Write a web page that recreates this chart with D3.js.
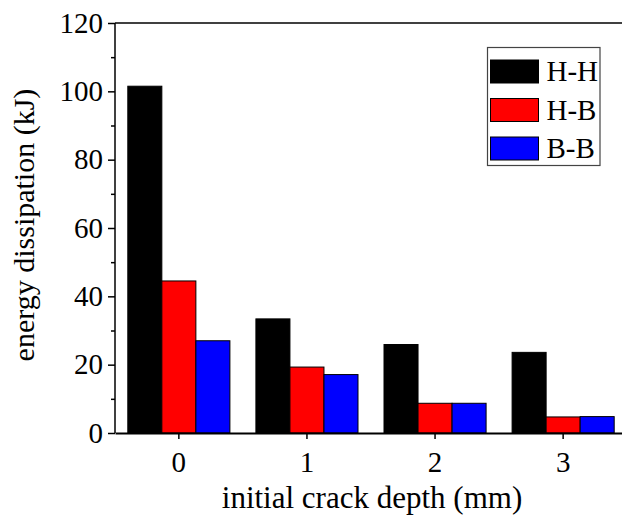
<!DOCTYPE html>
<html>
<head>
<meta charset="utf-8">
<script src="https://cdn.jsdelivr.net/npm/d3@7"></script>
<style>
  body { margin: 0; background: #fff; }
</style>
</head>
<body>
<div id="chart"></div>
<script>
// crack depths (mm) and the three joint types
const depths = ["0", "1", "2", "3"];
const series = ["H-H", "H-B", "B-B"];
const colors = ["#000000", "#ff0000", "#0000ff"];

// energy dissipation (kJ), one array per series, in depth order
const hh = [101.5, 33.4, 25.9, 23.6];
const hb = [44.5, 19.3, 8.7, 4.7];
const bb = [27.0, 17.1, 8.7, 4.8];
const values = [hh, hb, bb];

const yTicks = [0, 20, 40, 60, 80, 100, 120];
const yMinorTicks = [10, 30, 50, 70, 90, 110];

const width = 622, height = 519;
const margin = { top: 23, right: -5, bottom: 86, left: 115 };
const innerW = width - margin.left - margin.right;
const innerH = height - margin.top - margin.bottom;

const serif = (size) => `font-family:'Liberation Serif';font-size:${size}px;fill:#000`;

const svg = d3.select("#chart").append("svg")
  .attr("width", width)
  .attr("height", height);

const g = svg.append("g")
  .attr("transform", `translate(${margin.left},${margin.top})`);

// band scale for groups, inner band for bars
const x0 = d3.scaleBand()
  .domain(depths)
  .range([0, innerW])
  .paddingInner(0.203)
  .paddingOuter(0.1);

const x1 = d3.scaleBand()
  .domain(series)
  .range([0, x0.bandwidth()]);

const y = d3.scaleLinear()
  .domain([0, 120])
  .range([innerH, 0]);

// ----------------------------------
// BARS
// ----------------------------------
const rows = depths.map((d, i) => ({
  depth: d,
  vals: series.map((s, j) => ({ s: s, j: j, v: values[j][i] }))
}));

g.selectAll("g.group")
  .data(rows)
  .enter()
  .append("g")
    .classed("group", true)
    .attr("transform", d => `translate(${x0(d.depth)},0)`)
  .selectAll("rect")
  .data(d => d.vals)
  .enter()
  .append("rect")
    .attr("x", d => x1(d.s))
    .attr("y", d => y(d.v))
    .attr("width", x1.bandwidth())
    .attr("height", d => innerH - y(d.v))
    .style("fill", d => colors[d.j])
    .style("stroke", "#000")
    .style("stroke-width", 1);

// ----------------------------------
// AXES
// ----------------------------------
const yAxis = g.append("g")
  .call(d3.axisLeft(y).tickValues(yTicks).tickSize(7).tickPadding(5).tickSizeOuter(0));

const yMinor = g.append("g")
  .call(d3.axisLeft(y).tickValues(yMinorTicks).tickSize(4).tickFormat("").tickSizeOuter(0));
yMinor.select(".domain").remove();

const xAxis = g.append("g")
  .attr("transform", `translate(0,${innerH})`)
  .call(d3.axisBottom(x0).tickSize(6).tickPadding(12).tickSizeOuter(0));

// top frame line
g.append("line")
  .attr("x1", 0).attr("x2", innerW)
  .attr("y1", 0).attr("y2", 0)
  .style("stroke", "#000")
  .style("stroke-width", 1.5);

[yAxis, yMinor, xAxis].forEach(a => {
  a.attr("font-family", null).attr("font-size", null);
  a.selectAll("path, line").style("stroke", "#000").style("stroke-width", 1.5);
  a.selectAll("text").attr("style", serif(29));
});
yAxis.select(".domain").attr("d", `M0,${innerH}V0`);
xAxis.select(".domain").style("stroke-width", 2.2);

// ----------------------------------
// AXIS TITLES
// ----------------------------------
svg.append("text")
  .text("initial crack depth (mm)")
  .attr("x", 372)
  .attr("y", 508)
  .attr("text-anchor", "middle")
  .attr("style", serif(31));

svg.append("text")
  .text("energy dissipation (kJ)")
  .attr("transform", "translate(34,225) rotate(-90)")
  .attr("text-anchor", "middle")
  .attr("style", serif(30));

// ----------------------------------
// LEGEND
// ----------------------------------
const legend = svg.append("g")
  .attr("transform", "translate(487.5,47.5)");

legend.append("rect")
  .attr("width", 112.5)
  .attr("height", 118)
  .style("fill", "#fff")
  .style("stroke", "#444")
  .style("stroke-width", 1.2);

const items = legend.selectAll("g.item")
  .data(series)
  .enter()
  .append("g")
    .classed("item", true)
    .attr("transform", (d, i) => `translate(3,${12.5 + i * 38.5})`);

items.append("rect")
  .attr("width", 48)
  .attr("height", 23)
  .style("fill", (d, i) => colors[i])
  .style("stroke", "#000")
  .style("stroke-width", 1);

items.append("text")
  .text(d => d)
  .attr("x", 56)
  .attr("y", 21)
  .attr("style", serif(29));
</script>
</body>
</html>
